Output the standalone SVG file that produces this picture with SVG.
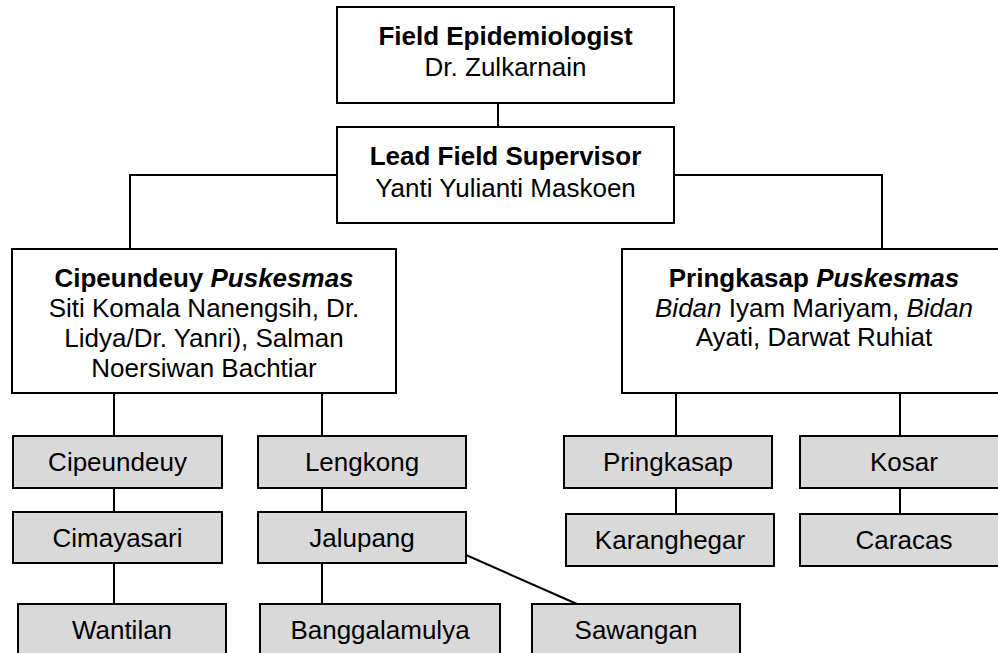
<svg xmlns="http://www.w3.org/2000/svg" width="998" height="653" viewBox="0 0 998 653">
<style>
.box{fill:#ffffff;stroke:#000;stroke-width:2}
.gbox{fill:#d9d9d9;stroke:#000;stroke-width:2}
.con{fill:none;stroke:#000;stroke-width:2}
text{font-family:"Liberation Sans",Arial,Helvetica,sans-serif;font-size:26px;fill:#000;text-anchor:middle}
.b{font-weight:bold}
.i{font-style:italic}
</style>
<rect width="998" height="653" fill="#ffffff"/>
<g id="connectors">
<line class="con" x1="498" y1="103" x2="498" y2="127"/>
<polyline class="con" points="337,175 130,175 130,249"/>
<polyline class="con" points="674,175 882,175 882,249"/>
<line class="con" x1="114" y1="393" x2="114" y2="436"/>
<line class="con" x1="322" y1="393" x2="322" y2="436"/>
<line class="con" x1="114" y1="488" x2="114" y2="512"/>
<line class="con" x1="114" y1="563" x2="114" y2="604"/>
<line class="con" x1="322" y1="488" x2="322" y2="512"/>
<line class="con" x1="322" y1="563" x2="322" y2="604"/>
<line class="con" x1="466" y1="555" x2="577" y2="604"/>
<line class="con" x1="676" y1="393" x2="676" y2="436"/>
<line class="con" x1="900" y1="393" x2="900" y2="436"/>
<line class="con" x1="676" y1="488" x2="676" y2="514"/>
<line class="con" x1="900" y1="488" x2="900" y2="514"/>
</g>
<g id="field-epidemiologist">
<rect class="box" x="337" y="7" width="337" height="96"/>
<text x="505.5" y="45" class="b">Field Epidemiologist</text>
<text x="505.5" y="76">Dr. Zulkarnain</text>
</g>
<g id="lead-field-supervisor">
<rect class="box" x="337" y="127" width="337" height="96"/>
<text x="505.5" y="165" class="b">Lead Field Supervisor</text>
<text x="505.5" y="197">Yanti Yulianti Maskoen</text>
</g>
<g id="cipeundeuy-puskesmas">
<rect class="box" x="12" y="249" width="384" height="144"/>
<text x="204" y="287" class="b">Cipeundeuy <tspan class="i">Puskesmas</tspan></text>
<text x="204" y="317">Siti Komala Nanengsih, Dr.</text>
<text x="204" y="347">Lidya/Dr. Yanri), Salman</text>
<text x="204" y="377">Noersiwan Bachtiar</text>
</g>
<g id="pringkasap-puskesmas">
<rect class="box" x="622" y="249" width="384" height="144"/>
<text x="814" y="287" class="b">Pringkasap <tspan class="i">Puskesmas</tspan></text>
<text x="814" y="317"><tspan class="i">Bidan</tspan> Iyam Mariyam, <tspan class="i">Bidan</tspan></text>
<text x="814" y="346">Ayati, Darwat Ruhiat</text>
</g>
<g id="cipeundeuy">
<rect class="gbox" x="13" y="436" width="209" height="52"/>
<text x="117.5" y="471">Cipeundeuy</text>
</g>
<g id="cimayasari">
<rect class="gbox" x="13" y="512" width="209" height="51"/>
<text x="117.5" y="547">Cimayasari</text>
</g>
<g id="wantilan">
<rect class="gbox" x="18" y="604" width="208" height="52"/>
<text x="122" y="639">Wantilan</text>
</g>
<g id="lengkong">
<rect class="gbox" x="258" y="436" width="208" height="52"/>
<text x="362" y="471">Lengkong</text>
</g>
<g id="jalupang">
<rect class="gbox" x="258" y="512" width="208" height="51"/>
<text x="362" y="547">Jalupang</text>
</g>
<g id="banggalamulya">
<rect class="gbox" x="260" y="604" width="240" height="52"/>
<text x="380" y="639">Banggalamulya</text>
</g>
<g id="sawangan">
<rect class="gbox" x="532" y="604" width="208" height="52"/>
<text x="636" y="639">Sawangan</text>
</g>
<g id="pringkasap">
<rect class="gbox" x="564" y="436" width="208" height="52"/>
<text x="668" y="471">Pringkasap</text>
</g>
<g id="karanghegar">
<rect class="gbox" x="566" y="514" width="208" height="52"/>
<text x="670" y="549">Karanghegar</text>
</g>
<g id="kosar">
<rect class="gbox" x="800" y="436" width="208" height="52"/>
<text x="904" y="471">Kosar</text>
</g>
<g id="caracas">
<rect class="gbox" x="800" y="514" width="208" height="52"/>
<text x="904" y="549">Caracas</text>
</g>
</svg>
